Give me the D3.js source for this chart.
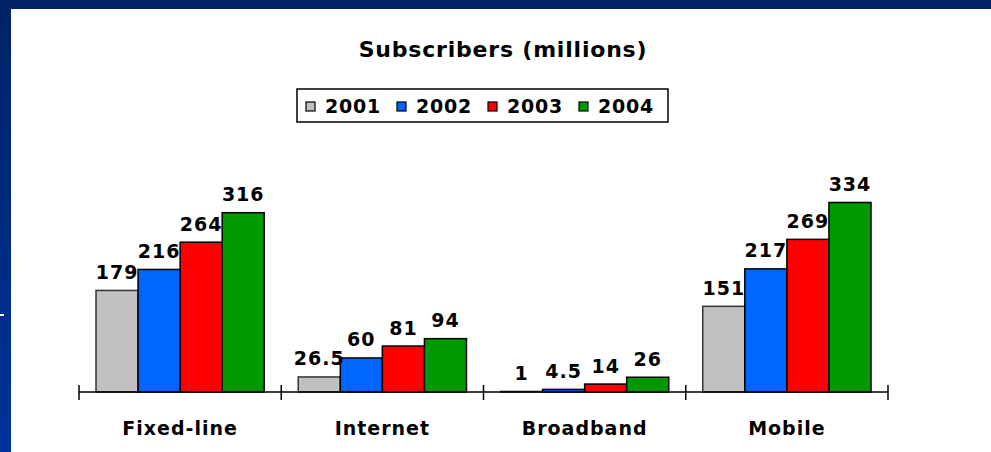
<!DOCTYPE html>
<html>
<head>
<meta charset="utf-8">
<script src="https://cdn.jsdelivr.net/npm/d3@7"></script>
<style>
  html, body { margin: 0; padding: 0; }
  body { width: 991px; height: 452px; overflow: hidden; }
  svg text { font-family: "DejaVu Sans", Verdana, sans-serif; font-weight: bold; fill: #000; }
</style>
</head>
<body>
<div id="chart"></div>
<script>
// chart data
var categories = ["Fixed-line", "Internet", "Broadband", "Mobile"];
var years = ["2001", "2002", "2003", "2004"];
var values2001 = [179, 26.5, 1, 151];
var values2002 = [216, 60, 4.5, 217];
var values2003 = [264, 81, 14, 269];
var values2004 = [316, 94, 26, 334];
var valueLabels2001 = ["179", "26.5", "1", "151"];
var valueLabels2002 = ["216", "60", "4.5", "217"];
var valueLabels2003 = ["264", "81", "14", "269"];
var valueLabels2004 = ["316", "94", "26", "334"];
var yearColors = ["#c0c0c0", "#0066ff", "#ff0000", "#009900"];
var chartTitle = "Subscribers (millions)";

var series = [values2001, values2002, values2003, values2004];
var seriesLabels = [valueLabels2001, valueLabels2002, valueLabels2003, valueLabels2004];

var width = 991, height = 452;

var svg = d3.select("#chart")
  .append("svg")
  .attr("width", width)
  .attr("height", height);

// slide background
var grad = svg.append("defs").append("linearGradient")
  .attr("id", "bg")
  .attr("x1", 0).attr("y1", 0).attr("x2", 0).attr("y2", 1);
grad.append("stop").attr("offset", "0%").attr("stop-color", "#002266");
grad.append("stop").attr("offset", "100%").attr("stop-color", "#00339a");

svg.append("rect").attr("width", width).attr("height", height).attr("fill", "url(#bg)");
svg.append("rect").attr("x", 0).attr("y", 314).attr("width", 4).attr("height", 2).attr("fill", "#fff");
svg.append("rect")
  .attr("x", 11).attr("y", 9)
  .attr("width", width - 11).attr("height", height - 9)
  .attr("fill", "#fff");

// title
svg.append("text")
  .attr("x", 503)
  .attr("y", 57)
  .attr("text-anchor", "middle")
  .style("font-size", "22px")
  .style("letter-spacing", "0.8px")
  .text(chartTitle);

// legend
var legend = svg.append("g").attr("transform", "translate(297,89)");
legend.append("rect")
  .attr("width", 371).attr("height", 33)
  .attr("fill", "#fff")
  .attr("stroke", "#000")
  .attr("stroke-width", 1.5);

var legendItems = legend.selectAll(".item")
  .data(years)
  .enter()
  .append("g")
  .attr("class", "item")
  .attr("transform", function(d, i) { return "translate(" + (9 + i * 91) + ",0)"; });

legendItems.append("rect")
  .attr("x", 0).attr("y", 13)
  .attr("width", 9).attr("height", 9)
  .attr("fill", function(d, i) { return yearColors[i]; })
  .attr("stroke", "#000")
  .attr("stroke-width", 1.2);

legendItems.append("text")
  .attr("x", 19)
  .attr("y", 24)
  .style("font-size", "19px")
  .style("letter-spacing", "0.8px")
  .text(function(d) { return d; });

// scales
var baseline = 392;
var x0 = d3.scaleBand()
  .domain(categories)
  .range([79, 888])
  .padding(0);

var x1 = d3.scaleBand()
  .domain(years)
  .range([17, x0.bandwidth() - 17])
  .padding(0);

var y = d3.scaleLinear()
  .domain([0, 350])
  .range([baseline, baseline - 198.6]);

// bars
var groups = svg.selectAll(".group")
  .data(categories)
  .enter()
  .append("g")
  .attr("class", "group")
  .attr("transform", function(d) { return "translate(" + x0(d) + ",0)"; });

groups.selectAll("rect")
  .data(function(d, ci) {
    return years.map(function(yr, si) {
      return { year: yr, value: series[si][ci], label: seriesLabels[si][ci], color: yearColors[si] };
    });
  })
  .enter()
  .append("rect")
  .attr("x", function(d) { return x1(d.year); })
  .attr("y", function(d) { return y(d.value); })
  .attr("width", x1.bandwidth())
  .attr("height", function(d) { return baseline - y(d.value); })
  .attr("fill", function(d) { return d.color; })
  .attr("stroke", function(d) { return d.year === "2001" ? "#333" : "#000"; })
  .attr("stroke-width", 1.5);

groups.selectAll(".val")
  .data(function(d, ci) {
    return years.map(function(yr, si) {
      return { year: yr, value: series[si][ci], label: seriesLabels[si][ci] };
    });
  })
  .enter()
  .append("text")
  .attr("class", "val")
  .attr("x", function(d) { return x1(d.year) + x1.bandwidth() / 2; })
  .attr("y", function(d) { return y(d.value) - 11.5; })
  .attr("text-anchor", "middle")
  .style("font-size", "19px")
  .style("letter-spacing", "1px")
  .text(function(d) { return d.label; });

// category axis
var axis = svg.append("g");
axis.append("line")
  .attr("x1", x0.range()[0]).attr("x2", x0.range()[1])
  .attr("y1", baseline).attr("y2", baseline)
  .attr("stroke", "#000").attr("stroke-width", 1.5);

var tickPositions = categories.map(function(c) { return x0(c); }).concat([x0.range()[1]]);
axis.selectAll(".tick")
  .data(tickPositions)
  .enter()
  .append("line")
  .attr("x1", function(d) { return d; })
  .attr("x2", function(d) { return d; })
  .attr("y1", baseline - 7)
  .attr("y2", baseline + 8)
  .attr("stroke", "#000")
  .attr("stroke-width", 1.5);

axis.selectAll(".cat")
  .data(categories)
  .enter()
  .append("text")
  .attr("x", function(d) { return x0(d) + x0.bandwidth() / 2; })
  .attr("y", 435)
  .attr("text-anchor", "middle")
  .style("font-size", "19px")
  .style("letter-spacing", "1px")
  .text(function(d) { return d; });
</script>
</body>
</html>
